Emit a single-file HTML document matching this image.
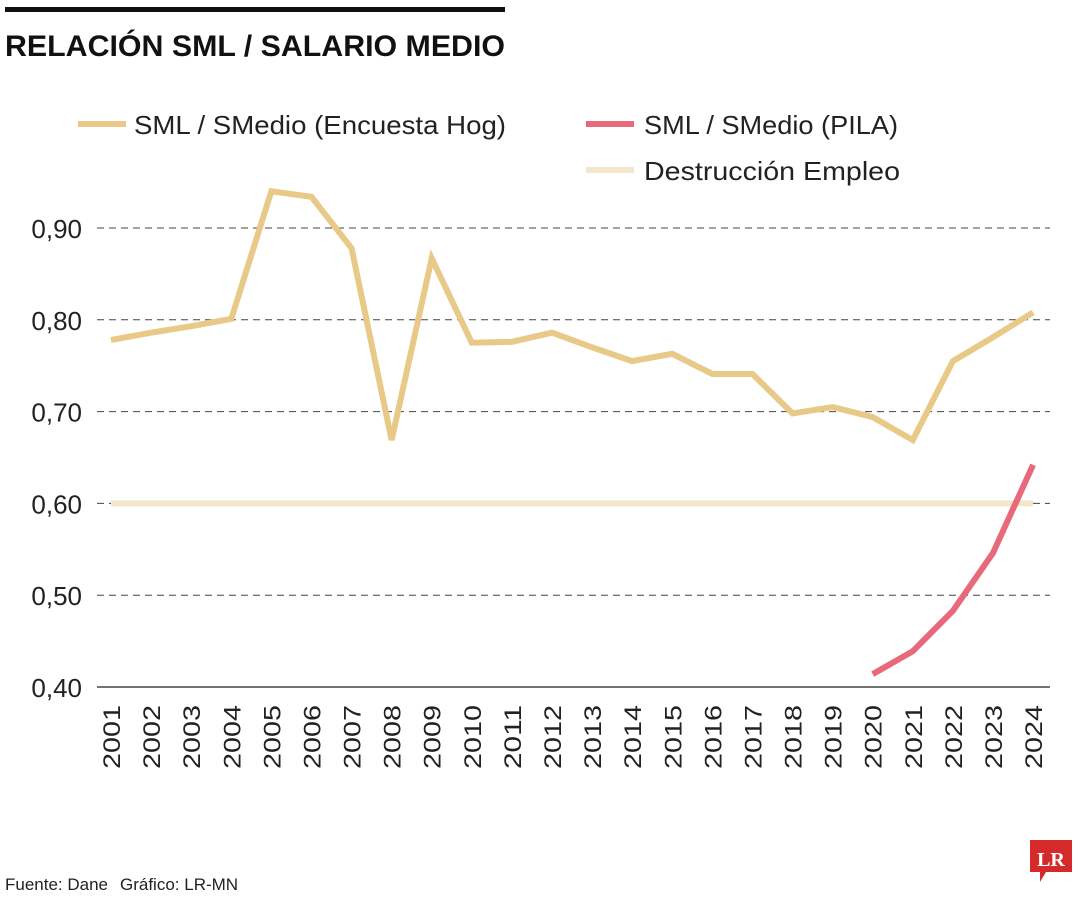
<!DOCTYPE html>
<html><head><meta charset="utf-8"><style>
body{margin:0;background:#fff;font-family:"Liberation Sans",sans-serif;}
#wrap{position:relative;width:1080px;height:900px;overflow:hidden;}
</style></head><body><div id="wrap">
<svg id="svg" width="1080" height="900" xmlns="http://www.w3.org/2000/svg">
<rect x="5" y="7" width="500" height="5" fill="#111"/>
<text x="5" y="56" font-size="30" font-weight="bold" fill="#111" textLength="500" lengthAdjust="spacingAndGlyphs">RELACIÓN SML / SALARIO MEDIO</text>
<g>
<line x1="78" y1="124" x2="126" y2="124" stroke="#e8c987" stroke-width="6"/>
<text x="134" y="134" font-size="26" fill="#222" textLength="372" lengthAdjust="spacingAndGlyphs">SML / SMedio (Encuesta Hog)</text>
<line x1="586" y1="124" x2="634" y2="124" stroke="#e8697a" stroke-width="6"/>
<text x="644" y="134" font-size="26" fill="#222" textLength="254" lengthAdjust="spacingAndGlyphs">SML / SMedio (PILA)</text>
<line x1="586" y1="170" x2="634" y2="170" stroke="#f3e6cc" stroke-width="6"/>
<text x="644" y="180" font-size="26" fill="#222" textLength="256" lengthAdjust="spacingAndGlyphs">Destrucción Empleo</text>
</g>
<g id="grid"></g><g id="series"></g><g id="xlabels"></g>
<text x="5" y="890" font-size="17" fill="#222">Fuente: Dane</text>
<text x="120" y="890" font-size="17" fill="#222">Gráfico: LR-MN</text>
<g>
<path d="M1030 840 H1072 V872 H1046 L1040 882 V872 H1030 Z" fill="#d42a2a"/>
<text x="1051" y="866" font-size="20" font-weight="bold" font-family="Liberation Serif,serif" fill="#fff" text-anchor="middle">LR</text>
</g>
</svg>
<script>
const years=["2001","2002","2003","2004","2005","2006","2007","2008","2009","2010","2011","2012","2013","2014","2015","2016","2017","2018","2019","2020","2021","2022","2023","2024"];
const encuesta=[0.778,0.786,0.793,0.801,0.940,0.934,0.878,0.669,0.867,0.775,0.776,0.786,0.770,0.755,0.763,0.741,0.741,0.698,0.705,0.694,0.669,0.755,0.781,0.808];
const pilaYears=["2020","2021","2022","2023","2024"];
const pila=[0.414,0.439,0.483,0.546,0.642];
const destruccion=0.60;
const yTicks=[0.4,0.5,0.6,0.7,0.8,0.9];
const yTickLabels=["0,40","0,50","0,60","0,70","0,80","0,90"];
const NS="http://www.w3.org/2000/svg";
const yS=v=>687-(v-0.4)*918;
const xS=y=>111+years.indexOf(y)*40.09;
function mk(t,a,p){const e=document.createElementNS(NS,t);for(const k in a)e.setAttribute(k,a[k]);p.appendChild(e);return e;}
const grid=document.getElementById('grid');
yTicks.forEach((v,i)=>{
 const y=yS(v);
 const l=mk('line',{x1:97,x2:1050,y1:y,y2:y,stroke:i==0?'#222':'#444','stroke-width':i==0?1.2:1,'stroke-dasharray':i==0?'none':'7 5'},grid);
 
 
 const t=mk('text',{x:82,y:y+10,'font-size':26,fill:'#222','text-anchor':'end'},grid);
 t.textContent=yTickLabels[i];
 
 
});
const xl=document.getElementById('xlabels');
years.forEach(yr=>{
 const x=xS(yr);
 const t=mk('text',{transform:`translate(${x+9},769) rotate(-90)`,'font-size':24,fill:'#222','text-anchor':'start',textLength:64,lengthAdjust:'spacingAndGlyphs'},xl);
 t.textContent=yr;
 
 
});
const s=document.getElementById('series');
const d=mk('line',{x1:xS(years[0]),x2:xS(years[years.length-1]),y1:yS(destruccion),y2:yS(destruccion),stroke:'#f3e6cc','stroke-width':6},s);


const p1=mk('polyline',{points:encuesta.map((v,i)=>xS(years[i])+','+yS(v)).join(' '),fill:'none',stroke:'#e8c987','stroke-width':6,'stroke-linejoin':'miter'},s);


const p2=mk('polyline',{points:pila.map((v,i)=>xS(pilaYears[i])+','+yS(v)).join(' '),fill:'none',stroke:'#e8697a','stroke-width':6},s);


</script>
</div></body></html>
